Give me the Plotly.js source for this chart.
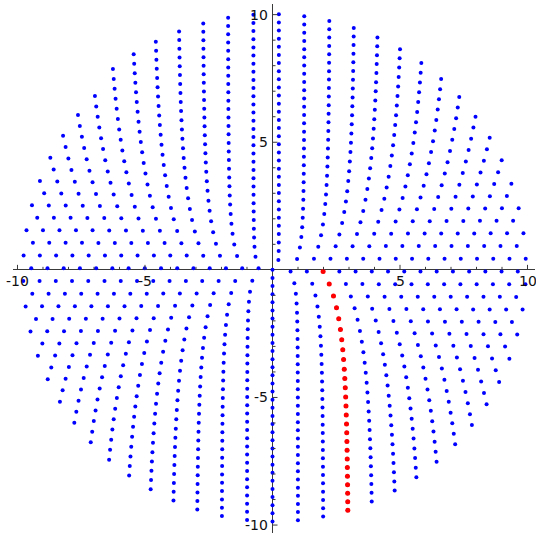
<!DOCTYPE html>
<html>
<head>
<meta charset="utf-8">
<script src="https://cdn.plot.ly/plotly-3.0.1.min.js"></script>
<style>
  html, body { margin: 0; padding: 0; background: #ffffff; }
  #chart { width: 536px; height: 535px; }
</style>
</head>
<body>
<div id="chart"></div>
<script>
// ---- Data (Sacks-type number spiral) ----
// Point n sits at radius radiusPerRootIndex*sqrt(n), angle 360*sqrt(n) + phase (degrees);
// perfect squares fall on the negative y-axis.
const firstIndex = 0;
const lastIndex = 999;
const radiusPerRootIndex = 0.318;
const turnPhaseDeg = -90;
// highlighted arm (red): n = k^2 + 3 for k = 6..31
const redIndices = [39, 52, 67, 84, 103, 124, 147, 172, 199, 228, 259, 292, 327,
                    364, 403, 444, 487, 532, 579, 628, 679, 732, 787, 844, 903, 964];
// axis ticks
const majorTicks = [-10, -5, 5, 10];
const majorTickLabels = ['-10', '-5', '5', '10'];
const minorTicks = [-9, -8, -7, -6, -4, -3, -2, -1, 1, 2, 3, 4, 6, 7, 8, 9];

// ---- build traces ----
function spiralX(n) {
  const r = radiusPerRootIndex * Math.sqrt(n);
  const a = (360 * Math.sqrt(n) + turnPhaseDeg) * Math.PI / 180;
  return r * Math.cos(a);
}
function spiralY(n) {
  const r = radiusPerRootIndex * Math.sqrt(n);
  const a = (360 * Math.sqrt(n) + turnPhaseDeg) * Math.PI / 180;
  return r * Math.sin(a);
}
const blueIdx = [];
for (let n = firstIndex; n <= lastIndex; n++) blueIdx.push(n);

const blueTrace = {
  type: 'scatter', mode: 'markers',
  x: blueIdx.map(spiralX), y: blueIdx.map(spiralY),
  marker: { color: '#0000ff', size: 4, line: { width: 0 } },
  cliponaxis: false, hoverinfo: 'skip'
};
const redTrace = {
  type: 'scatter', mode: 'markers',
  x: redIndices.map(spiralX), y: redIndices.map(spiralY),
  marker: { color: '#ff0000', size: 5, line: { width: 0 } },
  cliponaxis: false, hoverinfo: 'skip'
};

const axisColor = '#3a3a3a';
const shapes = [];
majorTicks.forEach(v => {
  shapes.push({ type: 'line', xref: 'x', yref: 'y', ysizemode: 'pixel', yanchor: 0,
    x0: v, x1: v, y0: 0, y1: 5, line: { color: axisColor, width: 1 } });
  shapes.push({ type: 'line', xref: 'x', yref: 'y', xsizemode: 'pixel', xanchor: 0,
    y0: v, y1: v, x0: 0, x1: 5, line: { color: axisColor, width: 1 } });
});
minorTicks.forEach(v => {
  shapes.push({ type: 'line', xref: 'x', yref: 'y', ysizemode: 'pixel', yanchor: 0,
    x0: v, x1: v, y0: 0, y1: 3, line: { color: axisColor, width: 1 } });
  shapes.push({ type: 'line', xref: 'x', yref: 'y', xsizemode: 'pixel', xanchor: 0,
    y0: v, y1: v, x0: 0, x1: 3, line: { color: axisColor, width: 1 } });
});

const labelFont = { family: 'DejaVu Sans, sans-serif', size: 14, color: '#111111' };
const annotations = [];
majorTicks.forEach((v, i) => {
  annotations.push({ xref: 'x', yref: 'y', x: v, y: 0, text: majorTickLabels[i],
    showarrow: false, xanchor: 'center', yanchor: 'top', yshift: -1, font: labelFont });
  annotations.push({ xref: 'x', yref: 'y', x: 0, y: v, text: majorTickLabels[i],
    showarrow: false, xanchor: 'right', yanchor: 'middle', xshift: -3, font: labelFont });
});

const layout = {
  width: 536, height: 535,
  margin: { l: 13, r: 1, t: 4, b: 2, pad: 0 },
  paper_bgcolor: '#ffffff', plot_bgcolor: '#ffffff',
  showlegend: false,
  xaxis: { range: [-10.176, 10.294], showgrid: false, showticklabels: false, ticks: '',
           zeroline: true, zerolinecolor: axisColor, zerolinewidth: 1.2, showline: false },
  yaxis: { range: [-10.311, 10.417], showgrid: false, showticklabels: false, ticks: '',
           zeroline: true, zerolinecolor: axisColor, zerolinewidth: 1.2, showline: false },
  shapes: shapes,
  annotations: annotations
};

Plotly.newPlot('chart', [blueTrace, redTrace], layout, { displayModeBar: false, staticPlot: true });
</script>
</body>
</html>
